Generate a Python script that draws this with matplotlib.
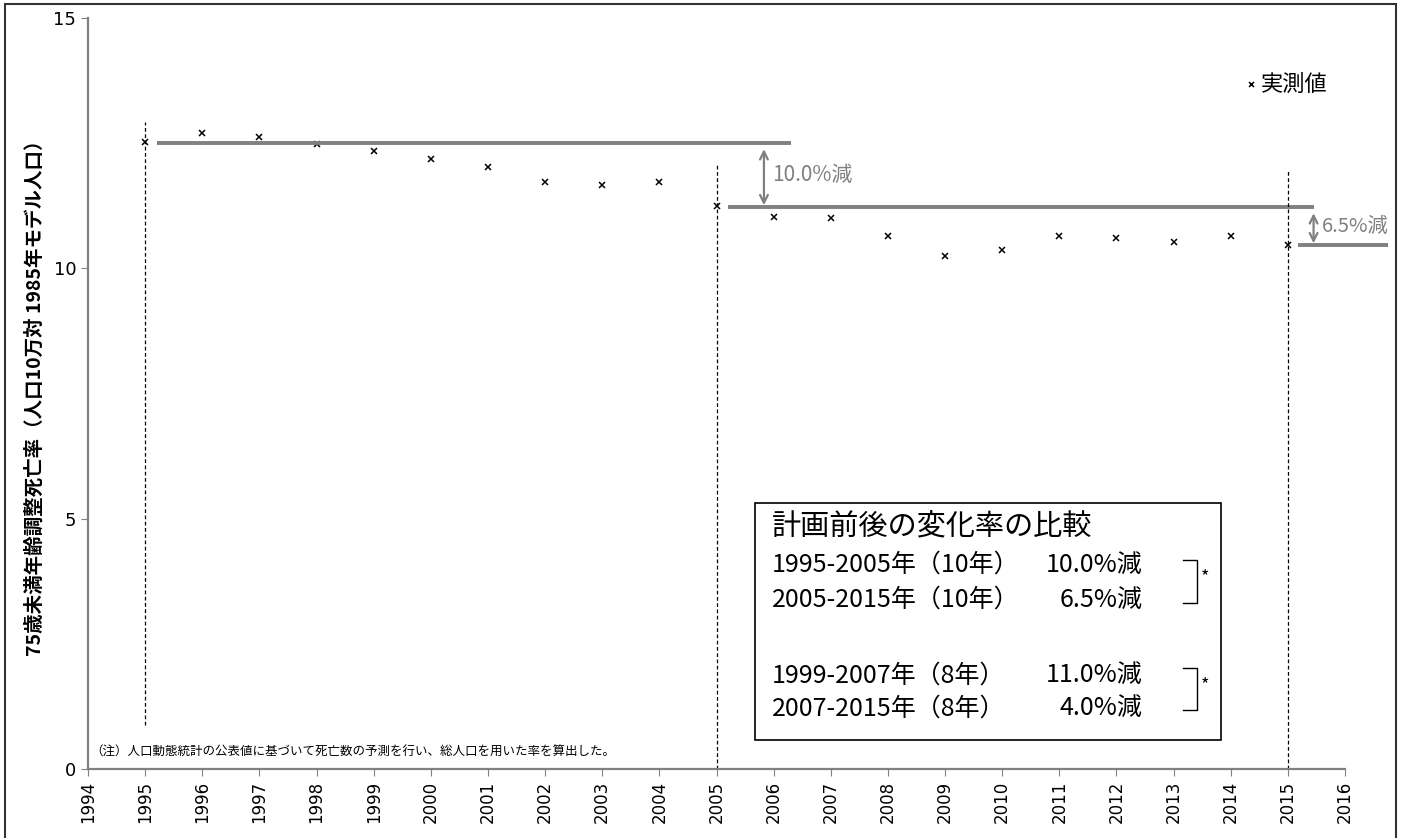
import numpy as np
import matplotlib
matplotlib.use('Agg')
import matplotlib.pyplot as plt
from matplotlib.patches import Rectangle

plt.rcParams['font.family'] = ['Noto Sans CJK JP', 'DejaVu Sans']

#dane
years = np.arange(1995, 2016)
rate = [12.52, 12.70, 12.62, 12.48, 12.34, 12.18, 12.02, 11.72, 11.66, 11.72,
        11.24, 11.02, 11.00, 10.64, 10.25, 10.37, 10.64, 10.60, 10.52, 10.64, 10.46]

# poziomy referencyjne (wartość, od, do)
levels = [(12.50, 1995.2, 2006.3), (11.22, 2005.2, 2015.45), (10.46, 2015.18, 2016.75)]
drops = [(2005.83, 12.50, 11.22, '10.0%減', 15), (2015.45, 11.22, 10.46, '6.5%減', 14.5)]
vlines = [(1995, 0.88, 12.92), (2005, 0, 12.06), (2015, 0, 11.96)]

box_title = '計画前後の変化率の比較'
box_rows = ['1995-2005年（10年）', '2005-2015年（10年）', '1999-2007年（8年）', '2007-2015年（8年）']
box_vals = ['10.0%減', '6.5%減', '11.0%減', '4.0%減']
note = '（注）人口動態統計の公表値に基づいて死亡数の予測を行い、総人口を用いた率を算出した。'
ylab = '75歳未満年齢調整死亡率（人口10万対 1985年モデル人口）'

gray = '#808080'

#wykres
fig = plt.figure(figsize=(14.05, 8.38), dpi=100)
ax = fig.add_axes([88/1405, 69/838, 1257/1405, 751/838])

ax.plot(years, rate, 'x', color='black', markersize=4.5, mew=1.1, label='実測値')

for v, x0, x1 in levels:
    ax.plot([x0, x1], [v, v], color=gray, lw=2.8, clip_on=False, solid_capstyle='butt')

for x, y0, y1, txt, fs in drops:
    ax.annotate('', xy=(x, y1 + 0.04), xytext=(x, y0 - 0.12),
                arrowprops=dict(arrowstyle='<->', color=gray, lw=1.6,
                                mutation_scale=14, shrinkA=0, shrinkB=0),
                annotation_clip=False)
    ax.text(x + 0.15, (y0 + y1) / 2, txt, color=gray, fontsize=fs, va='center', ha='left')

for x, y0, y1 in vlines:
    ax.plot([x, x], [y0, y1], color='black', lw=0.9, ls=(0, (3, 2)))

ax.set_xlim(1994, 2016)
ax.set_ylim(0, 15)
ax.set_xticks(range(1994, 2017))
ax.set_xticklabels([str(y) for y in range(1994, 2017)], rotation=90, fontsize=12,
                   family='DejaVu Sans')
ax.set_yticks([0, 5, 10, 15])
ax.set_yticklabels(['0', '5', '10', '15'], fontsize=13, family='DejaVu Sans')
ax.tick_params(axis='y', color=gray, length=5, direction='out')
ax.tick_params(axis='x', color=gray, length=5, direction='out')
for s in ['top', 'right']:
    ax.spines[s].set_visible(False)
for s in ['left', 'bottom']:
    ax.spines[s].set_color(gray)
    ax.spines[s].set_linewidth(1.6)
ax.set_ylabel(ylab, fontsize=14, fontweight='bold', labelpad=6)

ax.legend(loc='upper right', bbox_to_anchor=(1.002, 0.953), frameon=False, fontsize=16,
          handletextpad=0.1, handlelength=0.7, markerscale=0.8)

# ramka z porównaniem
ax.add_patch(Rectangle((0.531, 0.038), 0.370, 0.316, transform=ax.transAxes,
                       fill=False, edgecolor='black', lw=1.2))
ax.text(0.544, 0.321, box_title, transform=ax.transAxes, fontsize=21, va='center')
row_y = [0.2716, 0.225, 0.125, 0.081]
for y, r, v in zip(row_y, box_rows, box_vals):
    ax.text(0.544, y, r, transform=ax.transAxes, fontsize=18, va='center')
    ax.text(0.839, y, v, transform=ax.transAxes, fontsize=18, va='center', ha='right')
for ya, yb in [(0.278, 0.221), (0.134, 0.0786)]:
    bx = 0.882
    ax.plot([bx - 0.011, bx, bx, bx - 0.011], [ya, ya, yb, yb],
            transform=ax.transAxes, color='black', lw=1)
    ax.text(bx + 0.003, ya - 0.022, '*', transform=ax.transAxes, fontsize=13, va='center')

ax.text(0.002, 0.022, note, transform=ax.transAxes, fontsize=9, va='center')

# obramowanie całego wykresu
fig.patches.append(Rectangle((5/1405, -0.01), 1391/1405, 1.01 - 4/838, transform=fig.transFigure,
                             fill=False, edgecolor='#333333', lw=1.5))

plt.savefig('out.png', dpi=100)
